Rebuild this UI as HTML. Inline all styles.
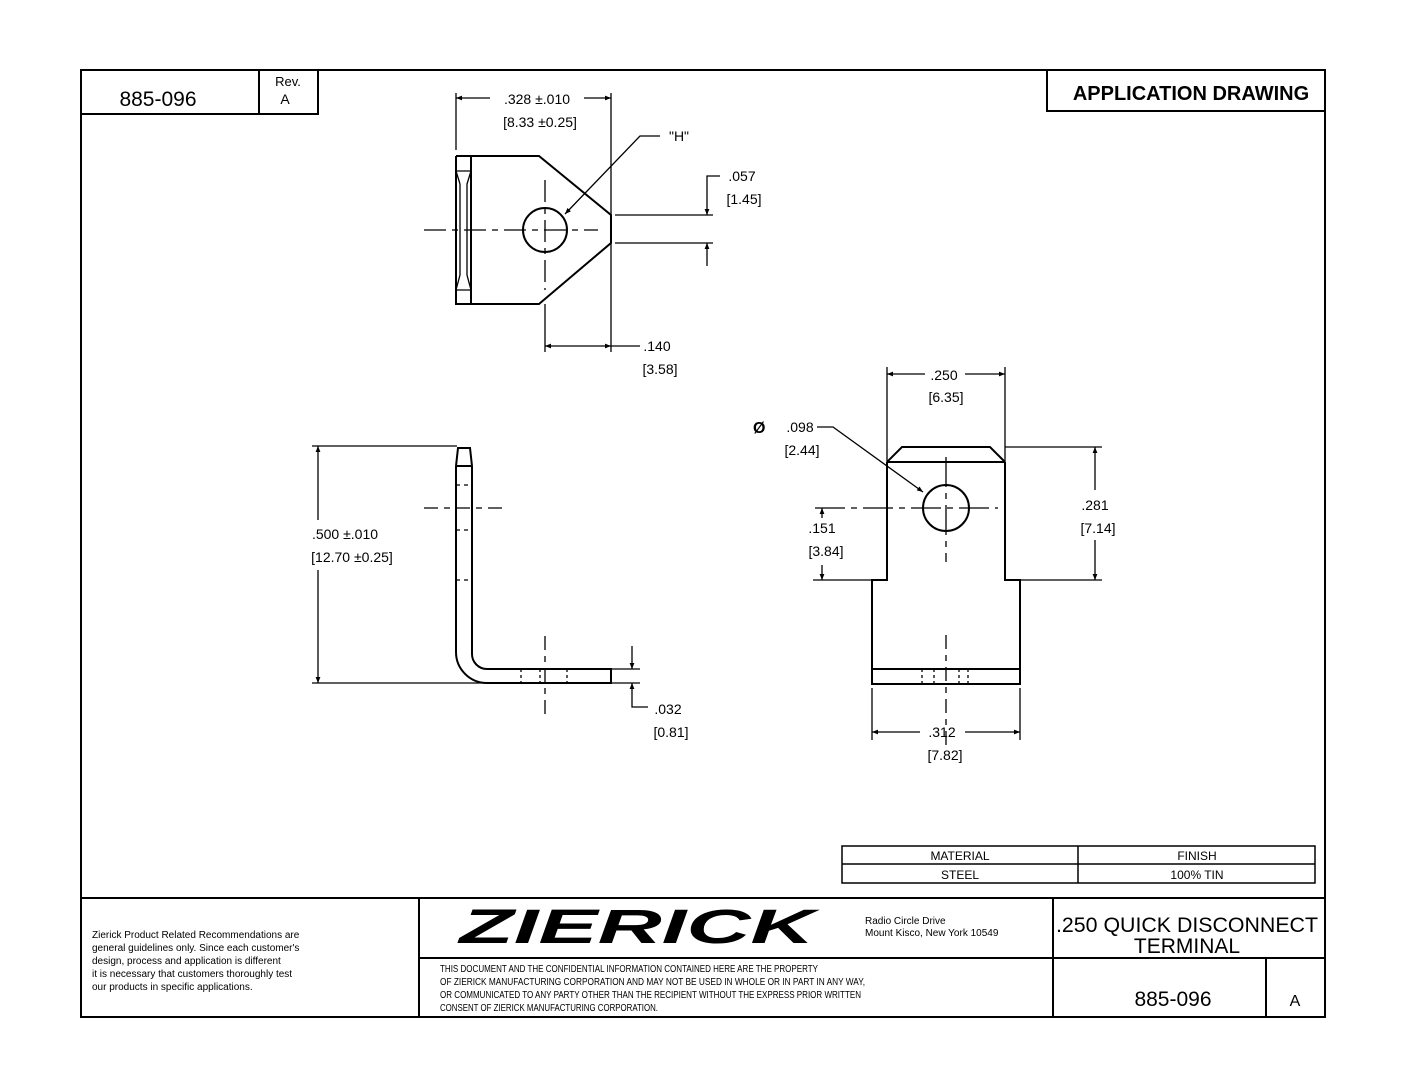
<!DOCTYPE html>
<html><head><meta charset="utf-8"><style>
html,body{margin:0;padding:0;background:#fff;}
svg{display:block;}
text{font-family:"Liberation Sans",sans-serif;fill:#000;}
.d{font-size:14px;text-anchor:middle;}
</style></head><body>
<svg width="1408" height="1088" viewBox="0 0 1408 1088" xmlns="http://www.w3.org/2000/svg">
<defs>
<marker id="a" viewBox="0 0 10 10" refX="10" refY="5" markerWidth="8" markerHeight="6" orient="auto-start-reverse" markerUnits="userSpaceOnUse"><path d="M0,1 L10,5 L0,9 z" fill="#000"/></marker>
</defs>
<rect width="1408" height="1088" fill="#fff"/>
<g stroke="#000" fill="none" stroke-width="2">
<rect x="81" y="70" width="1244" height="947"/>
<path d="M81 114 H318 V70 M259 70 V114"/>
<path d="M1047 70 V111 H1325"/>
<path d="M81 898 H1325 M419 898 V1017 M419 958 H1325 M1053 898 V1017 M1266 958 V1017"/>
<rect x="842" y="846" width="473" height="37" stroke-width="1.5"/>
<path d="M842 864 H1315 M1078 846 V883" stroke-width="1.5"/>
</g>
<text x="158" y="106" font-size="21" text-anchor="middle">885-096</text>
<text x="288" y="86" font-size="13" text-anchor="middle">Rev.</text>
<text x="285" y="104" font-size="14" text-anchor="middle">A</text>
<text x="1191" y="100" font-size="20" font-weight="bold" text-anchor="middle">APPLICATION DRAWING</text>

<!-- Top view -->
<g stroke="#000" fill="none" stroke-width="2">
<path d="M456 156 H539 L611 215 V243 L539 304 H456 V156"/>
<path d="M471 156 V304"/>
<path d="M456 171 H471 L467 184 V275 L471 290 H456 M460 184 V275 M460 184 L456 171 M460 275 L456 290" stroke-width="1.3"/>
<circle cx="545" cy="230" r="22"/>
</g>
<g stroke="#000" fill="none" stroke-width="1.3">
<path d="M424 230 H598" stroke-dasharray="22 6 6 6"/>
<path d="M545 180 V290" stroke-dasharray="22 6 6 6"/>
<path d="M456 93 V150 M611 93 V352 M545 304 V352"/>
<path d="M490 98 H456" marker-end="url(#a)"/><path d="M584 98 H611" marker-end="url(#a)"/>
<path d="M580 346 H545" marker-end="url(#a)"/><path d="M580 346 H611" marker-end="url(#a)"/>
<path d="M611 346 H640"/>
<path d="M660 136 H640 L565 214" marker-end="url(#a)"/>
<path d="M615 215 H713 M615 243 H713"/>
<path d="M720 176 H707 V215" marker-end="url(#a)"/>
<path d="M707 266 V243" marker-end="url(#a)"/>
</g>
<text class="d" x="537" y="104">.328 ±.010</text>
<text class="d" x="540" y="127">[8.33 ±0.25]</text>
<text class="d" x="679" y="141" font-size="12">"H"</text>
<text class="d" x="742" y="181">.057</text>
<text class="d" x="744" y="204">[1.45]</text>
<text class="d" x="657" y="351">.140</text>
<text class="d" x="660" y="374">[3.58]</text>

<!-- Side view -->
<g stroke="#000" fill="none" stroke-width="2">
<path d="M456 466 L458 448 H470 L472 466 M456 466 H472 M456 466 V652 A31 31 0 0 0 487 683 H611 V669 H487 A15 15 0 0 1 472 654 V466"/>
</g>
<g stroke="#000" fill="none" stroke-width="1.3">
<path d="M456 485 H472 M456 530 H472 M456 580 H472" stroke-dasharray="4 4"/>
<path d="M424 508 H502" stroke-dasharray="14 6 6 6"/>
<path d="M545 636 V716" stroke-dasharray="14 6 6 6"/>
<path d="M521 669 V683 M540 669 V683 M567 669 V683" stroke-dasharray="3 3"/>
<path d="M312 446 H457 M312 683 H487"/>
<path d="M318 520 V446" marker-end="url(#a)"/><path d="M318 570 V683" marker-end="url(#a)"/>
<path d="M611 669 H640 M611 683 H640"/>
<path d="M632 646 V669" marker-end="url(#a)"/>
<path d="M648 707 H632 V683" marker-end="url(#a)"/>
</g>
<text class="d" x="345" y="539">.500 ±.010</text>
<text class="d" x="352" y="562">[12.70 ±0.25]</text>
<text class="d" x="668" y="714">.032</text>
<text class="d" x="671" y="737">[0.81]</text>

<!-- Right view -->
<g stroke="#000" fill="none" stroke-width="2">
<path d="M887 462 L902 447 H990 L1005 462 M887 462 H1005 M887 462 V580 H872 V684 H1020 V580 H1005 V462"/>
<path d="M872 669 H1020"/>
<circle cx="946" cy="508" r="23"/>
</g>
<g stroke="#000" fill="none" stroke-width="1.3">
<path d="M946 457 V562 M815 508 H998" stroke-dasharray="30 6 6 6"/>
<path d="M946 635 V745" stroke-dasharray="14 6 6 6"/>
<path d="M922 669 V684 M934 669 V684 M959 669 V684 M968 669 V684" stroke-dasharray="3 3"/>
<path d="M887 367 V462 M1005 367 V462"/>
<path d="M925 374 H887" marker-end="url(#a)"/><path d="M965 374 H1005" marker-end="url(#a)"/>
<path d="M817 427 H833 L923 492" marker-end="url(#a)"/>
<path d="M1005 447 H1102 M1020 580 H1102"/>
<path d="M1095 490 V447" marker-end="url(#a)"/><path d="M1095 540 V580" marker-end="url(#a)"/>
<path d="M813 580 H872"/>
<path d="M822 518 V508" marker-end="url(#a)"/><path d="M822 565 V580" marker-end="url(#a)"/>
<path d="M872 688 V740 M1020 688 V740"/>
<path d="M920 732 H872" marker-end="url(#a)"/><path d="M965 732 H1020" marker-end="url(#a)"/>
</g>
<text class="d" x="944" y="380">.250</text>
<text class="d" x="946" y="402">[6.35]</text>
<text x="753" y="433" font-size="16" font-weight="bold">Ø</text>
<text class="d" x="800" y="432">.098</text>
<text class="d" x="802" y="455">[2.44]</text>
<text class="d" x="1095" y="510">.281</text>
<text class="d" x="1098" y="533">[7.14]</text>
<text class="d" x="822" y="533">.151</text>
<text class="d" x="826" y="556">[3.84]</text>
<text class="d" x="942" y="737">.312</text>
<text class="d" x="945" y="760">[7.82]</text>

<!-- Tables -->
<text x="960" y="860" font-size="12" text-anchor="middle">MATERIAL</text>
<text x="1197" y="860" font-size="12" text-anchor="middle">FINISH</text>
<text x="960" y="879" font-size="12" text-anchor="middle">STEEL</text>
<text x="1197" y="879" font-size="12" text-anchor="middle">100% TIN</text>

<g font-size="10">
<text x="92" y="938">Zierick Product Related Recommendations are</text>
<text x="92" y="951">general guidelines only. Since each customer's</text>
<text x="92" y="964">design, process and application is different</text>
<text x="92" y="977">it is necessary that customers thoroughly test</text>
<text x="92" y="990">our products in specific applications.</text>
</g>
<text x="637" y="943" font-size="48" font-weight="bold" font-style="italic" text-anchor="middle" textLength="355" lengthAdjust="spacingAndGlyphs">ZIERICK</text>
<text x="865" y="924" font-size="10">Radio Circle Drive</text>
<text x="865" y="936" font-size="10">Mount Kisco, New York 10549</text>
<g font-size="10">
<text x="440" y="972" textLength="378" lengthAdjust="spacingAndGlyphs">THIS DOCUMENT AND THE CONFIDENTIAL INFORMATION CONTAINED HERE ARE THE PROPERTY</text>
<text x="440" y="985" textLength="425" lengthAdjust="spacingAndGlyphs">OF ZIERICK MANUFACTURING CORPORATION AND MAY NOT BE USED IN WHOLE OR IN PART IN ANY WAY,</text>
<text x="440" y="998" textLength="421" lengthAdjust="spacingAndGlyphs">OR COMMUNICATED TO ANY PARTY OTHER THAN THE RECIPIENT WITHOUT THE EXPRESS PRIOR WRITTEN</text>
<text x="440" y="1011" textLength="218" lengthAdjust="spacingAndGlyphs">CONSENT OF ZIERICK MANUFACTURING CORPORATION.</text>
</g>
<text x="1187" y="932" font-size="21" text-anchor="middle" textLength="262" lengthAdjust="spacingAndGlyphs">.250 QUICK DISCONNECT</text>
<text x="1187" y="953" font-size="21" text-anchor="middle">TERMINAL</text>
<text x="1173" y="1006" font-size="21" text-anchor="middle">885-096</text>
<text x="1295" y="1006" font-size="16" text-anchor="middle">A</text>
</svg>
</body></html>
